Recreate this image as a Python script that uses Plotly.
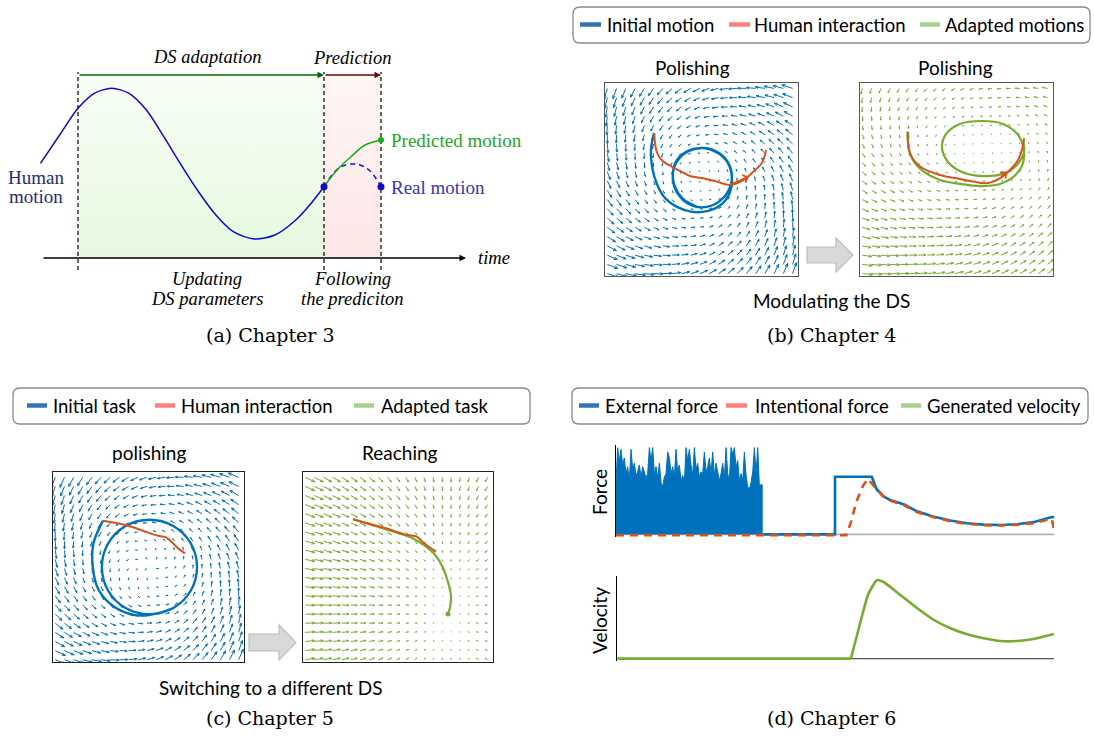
import numpy as np
import plotly.graph_objects as go

W, H = 1094, 738


def PX(x):
    return x / W


def PY(y):
    return 1 - y / H


def dom_x(x0, x1):
    return [x0 / W, x1 / W]


def dom_y(y0, y1):
    return [1 - y1 / H, 1 - y0 / H]


# ======================= DATA =======================
# (a) Chapter 3 : human motion, adaptation / prediction phases
a_phase_t = [78, 324, 381]
a_fill_top = 185
a_arrow_y = 183
a_axis_t = [42, 466]
a_human_t = [40.5, 59.6, 78, 94.3, 111.7, 129, 146.4, 163.8, 181.2, 198.5,
             215.9, 233.3, 254.1, 275, 295.8, 309.7, 324]
a_human_y = [94.7, 123, 149.7, 164.7, 169.7, 164.7, 148, 121.3, 93, 66.3,
             43, 26.3, 19, 23, 38, 53, 71.3]
a_pred_t = [324, 337, 351, 365, 381]
a_pred_y = [71.3, 88, 101.3, 113, 118]
a_real_t = [324, 339, 355, 369, 381]
a_real_y = [71.3, 90, 94, 88, 71.3]

# (b) Chapter 4 : modulating the DS (box-normalised coordinates)
bL_init_u = [0.254, 0.238, 0.244, 0.269, 0.311, 0.373, 0.451, 0.534, 0.606, 0.648, 0.658,
             0.637, 0.585, 0.508, 0.430, 0.373, 0.352, 0.358, 0.394, 0.456, 0.528, 0.596,
             0.642, 0.658, 0.642, 0.591, 0.513, 0.435, 0.378, 0.352, 0.363, 0.404, 0.477]
bL_init_v = [0.741, 0.653, 0.565, 0.477, 0.404, 0.358, 0.332, 0.337, 0.373, 0.435, 0.508,
             0.585, 0.637, 0.663, 0.648, 0.601, 0.539, 0.466, 0.404, 0.363, 0.358, 0.389,
             0.446, 0.508, 0.580, 0.637, 0.663, 0.648, 0.601, 0.534, 0.461, 0.399, 0.358]
bL_human_u = [0.255, 0.268, 0.294, 0.346, 0.389, 0.440, 0.509, 0.579, 0.648, 0.717, 0.768,
              0.812, 0.829, 0.834]
bL_human_v = [0.739, 0.644, 0.601, 0.566, 0.544, 0.518, 0.506, 0.489, 0.472, 0.497, 0.540,
              0.584, 0.627, 0.653]
bR_human_u = [0.247, 0.259, 0.311, 0.415, 0.501, 0.587, 0.657, 0.725, 0.777, 0.819, 0.839, 0.850]
bR_human_v = [0.748, 0.636, 0.567, 0.523, 0.506, 0.489, 0.481, 0.506, 0.549, 0.601, 0.653, 0.715]
bR_adapt_u = [0.247, 0.254, 0.280, 0.326, 0.415, 0.518, 0.622, 0.725, 0.788, 0.839, 0.850, 0.819,
              0.741, 0.632, 0.518, 0.446, 0.425, 0.456, 0.528, 0.632, 0.736, 0.808, 0.850, 0.845]
bR_adapt_v = [0.748, 0.653, 0.591, 0.544, 0.497, 0.477, 0.466, 0.477, 0.508, 0.570, 0.642, 0.731,
              0.788, 0.803, 0.788, 0.736, 0.663, 0.591, 0.539, 0.518, 0.528, 0.570, 0.642, 0.700]
bL_field = dict(cx=0.503, cy=0.505, rx=0.153, ry=0.153, conv=1.0, rot=1.5)
bR_field = dict(cx=0.632, cy=0.650, rx=0.200, ry=0.145, conv=1.0, rot=1.5)

# (c) Chapter 5 : switching to a different DS
cL_init_u = [0.262, 0.212, 0.208, 0.239, 0.320, 0.429, 0.501, 0.630, 0.721, 0.754, 0.721, 0.630,
             0.505, 0.380, 0.289, 0.256, 0.289, 0.380, 0.505, 0.630]
cL_init_v = [0.744, 0.625, 0.502, 0.379, 0.291, 0.247, 0.247, 0.284, 0.375, 0.500, 0.625, 0.716,
             0.749, 0.716, 0.625, 0.500, 0.375, 0.284, 0.251, 0.284]
cL_human_u = [0.262, 0.338, 0.411, 0.483, 0.556, 0.592, 0.628, 0.655, 0.691]
cL_human_v = [0.744, 0.730, 0.712, 0.686, 0.663, 0.656, 0.625, 0.598, 0.572]
cR_human_u = [0.263, 0.353, 0.432, 0.511, 0.553, 0.600, 0.637, 0.700]
cR_human_v = [0.751, 0.726, 0.705, 0.679, 0.668, 0.659, 0.625, 0.581]
cR_adapt_u = [0.263, 0.379, 0.484, 0.574, 0.642, 0.700, 0.737, 0.763, 0.779, 0.774, 0.763]
cR_adapt_v = [0.751, 0.716, 0.684, 0.653, 0.611, 0.558, 0.495, 0.421, 0.347, 0.289, 0.253]
cL_field = dict(cx=0.505, cy=0.500, rx=0.249, ry=0.250, conv=1.0, rot=1.5)
cR_target = (0.763, 0.253)
cR_gain = (1.0, 0.5)

# (d) Chapter 6 : forces and velocity (time 0..10)
noise_f = [0.60, 1.00, 0.85, 0.98, 0.80, 0.88, 0.70, 0.78, 0.62, 0.98, 0.75, 0.82, 0.68, 0.72,
           0.80, 0.66, 0.78, 0.72, 0.65, 0.70, 1.00, 0.85, 1.00, 0.70, 0.78, 0.65, 0.82, 0.60,
           0.55, 0.66, 0.70, 0.95, 0.88, 0.70, 0.78, 0.66, 0.98, 0.72, 0.80, 0.62, 0.68, 0.60,
           1.00, 0.85, 0.98, 0.80, 0.68, 1.00, 0.75, 0.82, 0.66, 0.72, 0.70, 0.95, 0.72, 0.78,
           0.88, 0.70, 0.95, 0.68, 0.82, 0.72, 0.62, 0.70, 0.82, 0.65, 1.00, 0.70, 0.62, 1.00,
           0.92, 1.00, 0.78, 0.85, 0.62, 0.70, 0.62, 0.95, 0.68, 0.55, 0.52, 0.60, 0.72, 1.00,
           0.70, 1.00, 0.55, 0.58, 0.56]
noise_end_t = 3.35
ext_t = [3.36, 5.00, 5.00, 5.84, 5.95, 6.10, 6.26, 6.58, 6.87, 7.24, 7.63, 8.01, 8.39, 8.77,
         9.15, 9.53, 9.95, 10.0]
ext_f = [0.0, 0.0, 0.664, 0.664, 0.52, 0.441, 0.395, 0.344, 0.266, 0.207, 0.16, 0.129, 0.113,
         0.109, 0.117, 0.141, 0.199, 0.20]
int_t = [0.0, 5.26, 5.37, 5.49, 5.64, 5.75, 5.90, 6.10, 6.26, 6.58, 6.87, 7.24, 7.63, 8.01,
         8.39, 8.77, 9.15, 9.53, 9.95, 10.0]
int_f = [-0.008, -0.008, 0.15, 0.38, 0.56, 0.64, 0.55, 0.44, 0.39, 0.335, 0.258, 0.20, 0.152,
         0.122, 0.105, 0.103, 0.11, 0.13, 0.18, 0.05]
vel_t = [0.0, 5.35, 5.55, 5.74, 5.94, 6.09, 6.48, 6.87, 7.25, 7.63, 8.01, 8.39, 8.77, 9.15,
         9.53, 10.0]
vel_v = [0.0, 0.0, 0.428, 0.811, 1.0, 0.98, 0.811, 0.641, 0.492, 0.386, 0.309, 0.258, 0.223,
         0.223, 0.249, 0.313]

legend_b = ["Initial motion", "Human interaction", "Adapted motions"]
legend_c = ["Initial task", "Human interaction", "Adapted task"]
legend_d = ["External force", "Intentional force", "Generated velocity"]
legend_colors = ["#2E75B6", "#FF7F7F", "#A9D18E"]

captions = ["(a) Chapter 3", "(b) Chapter 4", "(c) Chapter 5", "(d) Chapter 6"]

# ======================= STYLE =======================
BLUE = "#0072BD"
ORANGE = "#D95319"
GREEN = "#77AC30"
SANS = "Lato"
SERIF = "Liberation Serif"
CAP = "DejaVu Serif"

fig = go.Figure()


def add(tr, ax):
    tr.update(xaxis="x" + ax, yaxis="y" + ax, showlegend=False, hoverinfo="skip")
    fig.add_trace(tr)


# ---------------- (a) ----------------
t0, t1, t2 = a_phase_t
add(go.Scatter(x=[t0, t1, t1, t0, t0], y=[0, 0, a_fill_top, a_fill_top, 0], fill="toself",
               mode="none", fillgradient=dict(type="vertical", start=0, stop=a_fill_top,
                                              colorscale=[[0, "#e6f9df"], [1, "#f8fef6"]])), "")
add(go.Scatter(x=[t1, t2, t2, t1, t1], y=[0, 0, a_fill_top, a_fill_top, 0], fill="toself",
               mode="none", fillgradient=dict(type="vertical", start=0, stop=a_fill_top,
                                              colorscale=[[0, "#fde6e6"], [1, "#fff6f6"]])), "")
for t in a_phase_t:
    add(go.Scatter(x=[t, t], y=[-12, 186], mode="lines",
                   line=dict(color="black", width=1.2, dash="4px,3px")), "")
add(go.Scatter(x=a_human_t, y=a_human_y, mode="lines",
               line=dict(color="#0a0ad0", width=1.5, shape="spline", smoothing=0.8)), "")
add(go.Scatter(x=a_real_t, y=a_real_y, mode="lines",
               line=dict(color="#0a0ad0", width=1.5, dash="5px,4px", shape="spline")), "")
add(go.Scatter(x=a_pred_t, y=a_pred_y, mode="lines",
               line=dict(color="#16b016", width=1.5, shape="spline")), "")
add(go.Scatter(x=[a_real_t[0], a_real_t[-1]], y=[a_real_y[0], a_real_y[-1]], mode="markers",
               marker=dict(color="#0a0ad0", size=7)), "")
add(go.Scatter(x=[a_pred_t[-1]], y=[a_pred_y[-1]], mode="markers",
               marker=dict(color="#16b016", size=6)), "")


# ---------------- quiver helper ----------------
def quiver(X, Y, U, V, maxlen, hf=0.33, ha=np.deg2rad(22)):
    X, Y, U, V = X.ravel(), Y.ravel(), U.ravel(), V.ravel()
    mag = np.hypot(U, V)
    s = maxlen / mag.max()
    U, V = U * s, V * s
    tx, ty = X + U, Y + V
    L = np.hypot(U, V) * hf
    ang = np.arctan2(V, U)
    b1x, b1y = tx - L * np.cos(ang - ha), ty - L * np.sin(ang - ha)
    b2x, b2y = tx - L * np.cos(ang + ha), ty - L * np.sin(ang + ha)
    nan = np.full_like(X, np.nan)
    xs = np.stack([X, tx, b1x, nan, tx, b2x, nan], axis=1).ravel()
    ys = np.stack([Y, ty, b1y, nan, ty, b2y, nan], axis=1).ravel()
    return xs, ys


def limit_cycle(X, Y, p):
    dx = (X - p["cx"]) / p["rx"]
    dy = (Y - p["cy"]) / p["ry"]
    r = np.hypot(dx, dy) + 1e-9
    rad = -p["conv"] * (r - 1)
    vx = (rad * dx / r - p["rot"] * dy) * p["rx"]
    vy = (rad * dy / r + p["rot"] * dx) * p["ry"]
    return vx, vy


g = np.linspace(0.012, 0.972, 21)
GX, GY = np.meshgrid(g, g)


def field_trace(U, V, color, ax, maxlen=0.062):
    xs, ys = quiver(GX, GY, U, V, maxlen)
    add(go.Scatter(x=xs, y=ys, mode="lines", line=dict(color=color, width=1),
                   connectgaps=False), ax)


# (b) left
U, V = limit_cycle(GX, GY, bL_field)
field_trace(U, V, BLUE, "2")
add(go.Scatter(x=bL_init_u, y=bL_init_v, mode="lines",
               line=dict(color=BLUE, width=2.4, shape="spline")), "2")
add(go.Scatter(x=bL_human_u, y=bL_human_v, mode="lines",
               line=dict(color=ORANGE, width=2, shape="spline")), "2")
# (b) right
U, V = limit_cycle(GX, GY, bR_field)
field_trace(U, V, GREEN, "3", 0.055)
add(go.Scatter(x=bR_adapt_u, y=bR_adapt_v, mode="lines",
               line=dict(color=GREEN, width=2.2, shape="spline")), "3")
add(go.Scatter(x=bR_human_u, y=bR_human_v, mode="lines",
               line=dict(color=ORANGE, width=2, shape="spline")), "3")
# (c) left
U, V = limit_cycle(GX, GY, cL_field)
field_trace(U, V, BLUE, "4")
add(go.Scatter(x=cL_init_u, y=cL_init_v, mode="lines",
               line=dict(color=BLUE, width=2.4, shape="spline")), "4")
add(go.Scatter(x=cL_human_u, y=cL_human_v, mode="lines",
               line=dict(color=ORANGE, width=2, shape="spline")), "4")
# (c) right
U = -cR_gain[0] * (GX - cR_target[0])
V = -cR_gain[1] * (GY - cR_target[1])
field_trace(U, V, GREEN, "5", 0.055)
add(go.Scatter(x=cR_adapt_u, y=cR_adapt_v, mode="lines",
               line=dict(color=GREEN, width=2.2, shape="spline")), "5")
add(go.Scatter(x=[cR_adapt_u[-1]], y=[cR_adapt_v[-1]], mode="markers",
               marker=dict(color=GREEN, size=5)), "5")
add(go.Scatter(x=cR_human_u, y=cR_human_v, mode="lines",
               line=dict(color=ORANGE, width=2, shape="spline")), "5")

# ---------------- (d) ----------------
noise_t = np.linspace(0, noise_end_t, len(noise_f))
add(go.Scatter(x=[0, 10], y=[0, 0], mode="lines", line=dict(color="#b4b4b4", width=1.6)), "6")
add(go.Scatter(x=noise_t, y=noise_f, mode="lines", fill="tozeroy", fillcolor=BLUE,
               line=dict(color=BLUE, width=1)), "6")
add(go.Scatter(x=ext_t, y=ext_f, mode="lines", line=dict(color=BLUE, width=2.6)), "6")
add(go.Scatter(x=int_t, y=int_f, mode="lines",
               line=dict(color=ORANGE, width=2.6, dash="8px,6px")), "6")
add(go.Scatter(x=[0, 10], y=[0, 0], mode="lines", line=dict(color="#555555", width=1.2)), "7")
add(go.Scatter(x=vel_t[:2], y=vel_v[:2], mode="lines",
               line=dict(color=GREEN, width=2.8)), "7")
add(go.Scatter(x=vel_t[1:], y=vel_v[1:], mode="lines",
               line=dict(color=GREEN, width=2.6, shape="spline", smoothing=0.5)), "7")

# ======================= LAYOUT =======================
hidden = dict(visible=False, fixedrange=True)


def box_axis(dom, anchor, color):
    return dict(domain=dom, anchor=anchor, range=[0, 1], showline=True, mirror=True,
                linecolor=color, linewidth=1, ticks="", showticklabels=False,
                showgrid=False, zeroline=False)


layout = dict(
    width=W, height=H, margin=dict(l=0, r=0, t=0, b=0),
    paper_bgcolor="white", plot_bgcolor="rgba(0,0,0,0)", showlegend=False,
    xaxis=dict(domain=dom_x(0, 540), range=[0, 540], anchor="y", **hidden),
    yaxis=dict(domain=dom_y(40, 300), range=[-42, 218], anchor="x", **hidden),
    xaxis2=box_axis(dom_x(605, 798), "y2", "#555"),
    yaxis2=box_axis(dom_y(83, 276), "x2", "#555"),
    xaxis3=box_axis(dom_x(860, 1053), "y3", "#555"),
    yaxis3=box_axis(dom_y(83, 276), "x3", "#555"),
    xaxis4=box_axis(dom_x(53, 244), "y4", "#222"),
    yaxis4=box_axis(dom_y(472, 662), "x4", "#222"),
    xaxis5=box_axis(dom_x(303, 493), "y5", "#222"),
    yaxis5=box_axis(dom_y(472, 662), "x5", "#222"),
    xaxis6=dict(domain=dom_x(616, 1054), range=[0, 10], anchor="y6", **hidden),
    yaxis6=dict(domain=dom_y(445, 537), range=[-0.03, 1.03], anchor="x6", showline=True,
                linecolor="black", linewidth=1, ticks="", showticklabels=False,
                showgrid=False, zeroline=False),
    xaxis7=dict(domain=dom_x(617.3, 1054), range=[0, 10], anchor="y7", **hidden),
    yaxis7=dict(domain=dom_y(575.5, 660.5), range=[-0.025, 1.06], anchor="x7", showline=True,
                linecolor="black", linewidth=1, ticks="", showticklabels=False,
                showgrid=False, zeroline=False),
)
fig.update_layout(**layout)

ann = []
shapes = []


def text(x, y, s, size=19, family=SANS, color="black", xanchor="center", ref="paper",
         xref="paper", yref="paper", angle=0):
    if ref == "paper":
        x, y = PX(x), PY(y)
    ann.append(dict(x=x, y=y, xref=xref, yref=yref, text=s, showarrow=False,
                    font=dict(family=family, size=size, color=color),
                    xanchor=xanchor, yanchor="middle", textangle=angle))


# (a) texts & arrows
ital = dict(ref="data", xref="x", yref="y", family=SERIF, size=18.5)
text(207, 201, "<i>DS adaptation</i>", **ital)
text(352, 200, "<i>Prediction</i>", **ital)
text(207, -21, "<i>Updating</i>", **ital)
text(207, -41, "<i>DS parameters</i>", **ital)
text(352, -21, "<i>Following</i>", **ital)
text(352, -41, "<i>the prediciton</i>", **ital)
text(476, 0, "<i>time</i>", xanchor="left", **ital)
rom = dict(ref="data", xref="x", yref="y", family=SERIF, size=19)
text(36, 80, "Human", color="#2a2a70", **rom)
text(36, 61, "motion", color="#2a2a70", **rom)
text(389, 117, "Predicted motion", color="#1ea81e", xanchor="left", **rom)
text(389, 70.5, "Real motion", color="#3636b4", xanchor="left", **rom)


def arrow(x0, y0, x1, y1, color, xr="x", yr="y", width=1.3, head=2, size=1.0):
    ann.append(dict(x=x1, y=y1, ax=x0, ay=y0, xref=xr, yref=yr, axref=xr, ayref=yr,
                    showarrow=True, arrowhead=head, arrowsize=size, arrowwidth=width,
                    arrowcolor=color, text="", standoff=0, startstandoff=0))


arrow(a_axis_t[0], 0, a_axis_t[1], 0, "black")
arrow(t0, a_arrow_y, t1, a_arrow_y, "#0a640a")
arrow(t1, a_arrow_y, t2, a_arrow_y, "#6a0a0a")
arrow(bL_human_u[8], bL_human_v[8], 0.745, 0.515, ORANGE, "x2", "y2", 2, 4, 0.8)
arrow(bR_human_u[7], bR_human_v[7], 0.760, 0.540, ORANGE, "x3", "y3", 2, 4, 0.8)

# panel titles
text(692, 67, "Polishing")
text(956, 67, "Polishing")
text(831, 300, "Modulating the DS")
text(149, 452, "polishing")
text(400, 452, "Reaching")
text(271, 687, "Switching to a different DS")
text(599, 492, "Force", angle=-90)
text(599, 621, "Velocity", angle=-90)

# captions
for s, (cx, cy) in zip(captions, [(270, 335), (831, 335), (270, 718), (831, 718)]):
    text(cx, cy, s, family=CAP, size=19)


# legend boxes
def rrect(x0, y0, x1, y1, r=7):
    p = [("M", x0 + r, y0), ("L", x1 - r, y0), ("Q", x1, y0, x1, y0 + r), ("L", x1, y1 - r),
         ("Q", x1, y1, x1 - r, y1), ("L", x0 + r, y1), ("Q", x0, y1, x0, y1 - r),
         ("L", x0, y0 + r), ("Q", x0, y0, x0 + r, y0)]
    out = ""
    for seg in p:
        c = seg[0]
        pts = seg[1:]
        coords = " ".join(f"{PX(pts[i]):.5f},{PY(pts[i+1]):.5f}" for i in range(0, len(pts), 2))
        out += f"{c} {coords} "
    return out + "Z"


def legend(box, segs, tx, ty, labels):
    shapes.append(dict(type="path", xref="paper", yref="paper", path=rrect(*box),
                       line=dict(color="#8a8a8a", width=1.3), fillcolor="white"))
    for (s0, s1), x, lab, col in zip(segs, tx, labels, legend_colors):
        shapes.append(dict(type="line", xref="paper", yref="paper", x0=PX(s0), x1=PX(s1),
                           y0=PY(ty), y1=PY(ty), line=dict(color=col, width=4.5)))
        text(x, ty, lab, size=18.5, xanchor="left")


legend((573, 7, 1090, 43), [(580, 601), (729, 750), (920, 940)], [605, 752, 943], 24.5, legend_b)
legend((13, 388, 530, 424), [(27, 47), (155, 175), (354, 374)], [51, 179, 379], 405.5, legend_c)
legend((572, 388, 1088, 424), [(579, 599), (726, 747), (901, 921)], [603, 753, 925], 405.5, legend_d)


# gray block arrows
def block_arrow(x0, xm, x1, cy, bh, hh):
    pts = [(x0, cy - bh), (xm, cy - bh), (xm, cy - hh), (x1, cy), (xm, cy + hh), (xm, cy + bh),
           (x0, cy + bh)]
    path = "M " + " L ".join(f"{PX(a):.5f},{PY(b):.5f}" for a, b in pts) + " Z"
    shapes.append(dict(type="path", xref="paper", yref="paper", path=path,
                       fillcolor="#d9d9d9", line=dict(color="#bdbdbd", width=1.2)))


block_arrow(807, 836, 853, 255, 8, 17)
block_arrow(249, 279, 296, 642.5, 8.3, 17.5)

fig.update_layout(annotations=ann, shapes=shapes)
fig.write_html("out.html")
